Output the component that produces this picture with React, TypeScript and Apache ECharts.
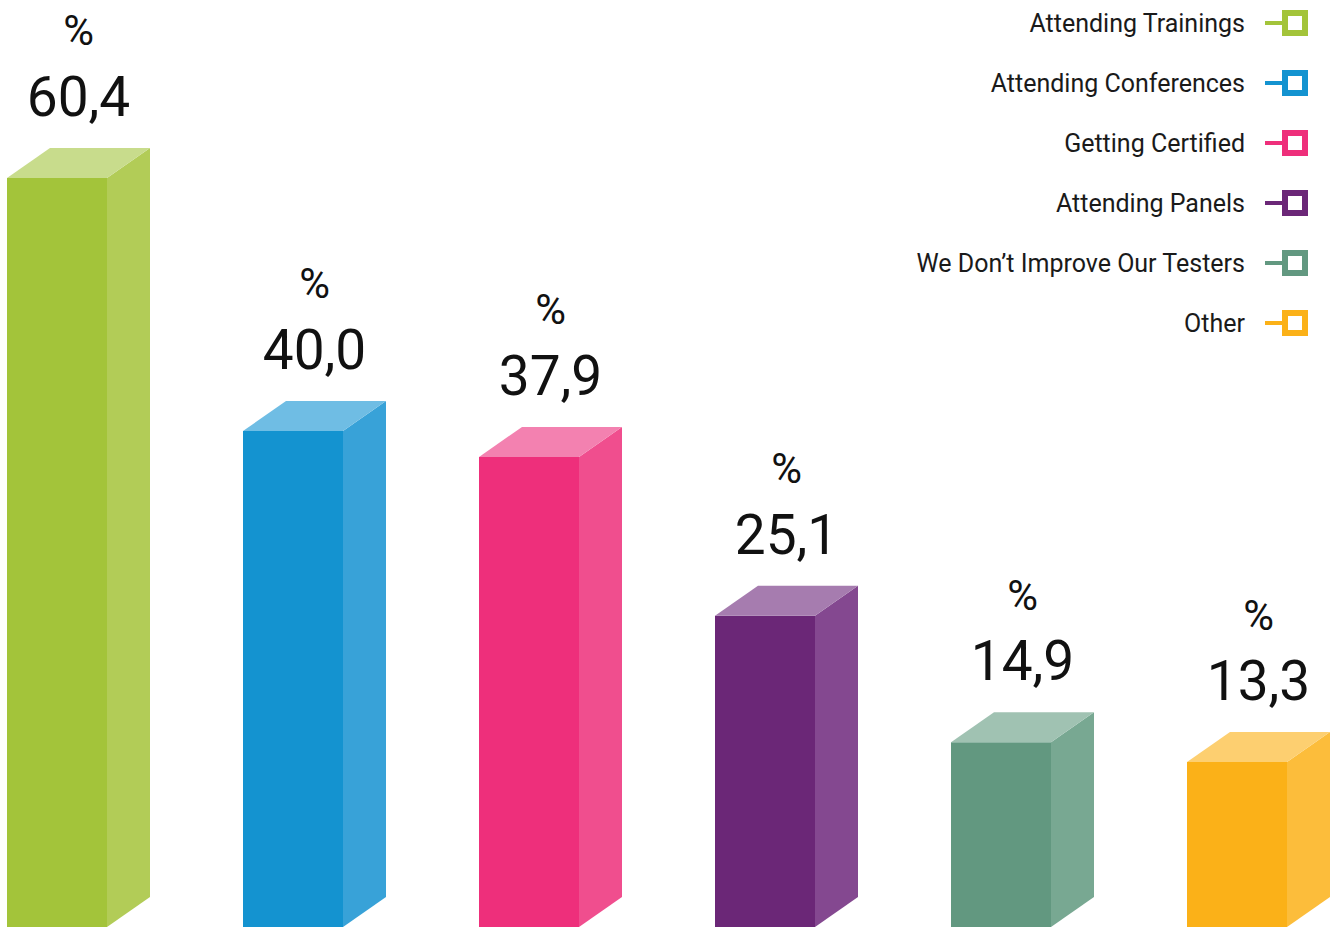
import React, { useEffect, useRef } from "react";
import * as echarts from "echarts";

const categories = [
  "Attending Trainings",
  "Attending Conferences",
  "Getting Certified",
  "Attending Panels",
  "We Don’t Improve Our Testers",
  "Other",
];
const values = [60.4, 40.0, 37.9, 25.1, 14.9, 13.3];
const frontColors = ["#a3c43a", "#1493d0", "#ee2f7b", "#6b2777", "#629880", "#fbb118"];
const sideColors = ["#b2cc57", "#38a2d8", "#f04e8e", "#844890", "#78a892", "#fcbd3b"];
const topColors = ["#c8dc8c", "#6fbde4", "#f381b0", "#a67caf", "#a0c2b2", "#fdcf70"];

const BAR_W = 100;
const DEPTH_X = 43;
const DEPTH_Y = 30;
const LEGEND_ICON =
  "path://M0,11L17,11L17,0L43,0L43,26L17,26L17,15L0,15Z M23,6L23,20L37,20L37,6Z";

const fmt = (v: number) => v.toFixed(1).replace(".", ",");

export default function App() {
  const ref = useRef<HTMLDivElement>(null);
  useEffect(() => {
    if (!ref.current) return;
    const chart = echarts.init(ref.current, null, { renderer: "svg" });
    const series = categories.map((name, i) => ({
      type: "custom",
      name,
      clip: false,
      itemStyle: { color: frontColors[i] },
      data: [[i, values[i]]],
      renderItem: (params: any, api: any) => {
        const x = api.value(0);
        const v = api.value(1);
        const top = api.coord([x, v]);
        const base = api.coord([x, 0]);
        const left = top[0] - BAR_W / 2;
        const right = top[0] + BAR_W / 2;
        const ty = top[1];
        const by = base[1];
        const cx = top[0] + DEPTH_X / 2;
        const backTop = ty - DEPTH_Y;
        return {
          type: "group",
          children: [
            {
              type: "rect",
              shape: { x: left, y: ty, width: BAR_W, height: by - ty },
              style: { fill: frontColors[i] },
            },
            {
              type: "polygon",
              shape: {
                points: [
                  [right, ty],
                  [right + DEPTH_X, ty - DEPTH_Y],
                  [right + DEPTH_X, by - DEPTH_Y],
                  [right, by],
                ],
              },
              style: { fill: sideColors[i] },
            },
            {
              type: "polygon",
              shape: {
                points: [
                  [left, ty],
                  [left + DEPTH_X, ty - DEPTH_Y],
                  [right + DEPTH_X, ty - DEPTH_Y],
                  [right, ty],
                ],
              },
              style: { fill: topColors[i] },
            },
            {
              type: "text",
              x: cx,
              y: backTop - 51,
              style: {
                text: fmt(v),
                fill: "#111",
                font: "400 55px Roboto",
                align: "center",
                verticalAlign: "middle",
              },
            },
            {
              type: "text",
              x: cx,
              y: backTop - 117,
              style: {
                text: "%",
                fill: "#111",
                font: "400 42px Roboto",
                align: "center",
                verticalAlign: "middle",
              },
            },
          ],
        };
      },
    }));
    chart.setOption({
      animation: false,
      grid: { left: 57, right: 97, top: 0, bottom: 0 },
      xAxis: { type: "value", min: 0, max: 5, show: false },
      yAxis: { type: "value", min: 0, max: 74.75, show: false },
      legend: {
        orient: "vertical",
        right: 26,
        top: 10,
        padding: 0,
        align: "right",
        itemWidth: 43,
        itemHeight: 26,
        itemGap: 34,
        icon: LEGEND_ICON,
        data: categories,
        selectedMode: false,
        textStyle: {
          fontFamily: "Roboto",
          fontSize: 25,
          color: "#1a1a1a",
          padding: [0, 15, 0, 0],
        },
      },
      series,
    });
    return () => chart.dispose();
  }, []);
  return (
    <div
      ref={ref}
      style={{ position: "fixed", left: 0, top: 0, width: 1334, height: 927, background: "#fff" }}
    />
  );
}
